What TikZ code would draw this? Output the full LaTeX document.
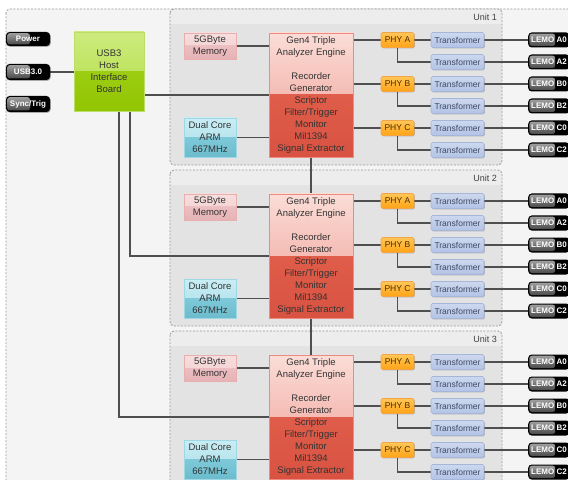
\documentclass[tikz,border=0pt]{standalone}
\usepackage{fontspec}
\setmainfont{Liberation Sans}
\usetikzlibrary{calc,shadows}
\pgfdeclarelayer{bg}
\pgfdeclarelayer{conn}
\pgfsetlayers{bg,conn,main}
\definecolor{outerbg}{HTML}{F4F4F4}
\definecolor{unitbody}{HTML}{E3E3E3}
\definecolor{unithead}{HTML}{EDEDED}
\definecolor{dashcol}{HTML}{9A9A9A}
\definecolor{txt}{HTML}{333333}
\definecolor{memA}{HTML}{F7DEDE}
\definecolor{memB}{HTML}{F1CDCE}
\definecolor{memC}{HTML}{ECBEC1}
\definecolor{memD}{HTML}{E6B2B6}
\definecolor{memBd}{HTML}{E8AFAF}
\definecolor{engA}{HTML}{FBDDD7}
\definecolor{engB}{HTML}{EE9A90}
\definecolor{engC}{HTML}{DF5D4A}
\definecolor{engD}{HTML}{D95241}
\definecolor{engBd}{HTML}{EC8C80}
\definecolor{armA}{HTML}{C9EDF4}
\definecolor{armB}{HTML}{A8DDE8}
\definecolor{armC}{HTML}{7DC9D9}
\definecolor{armD}{HTML}{6CBCCD}
\definecolor{armBd}{HTML}{9FD8E4}
\definecolor{brdA}{HTML}{CDEB7E}
\definecolor{brdB}{HTML}{B0DC42}
\definecolor{brdC}{HTML}{9CCD12}
\definecolor{brdD}{HTML}{92C502}
\definecolor{brdBd}{HTML}{BCDD66}
\definecolor{phyA}{HTML}{FFC657}
\definecolor{phyB}{HTML}{FFA316}
\definecolor{phyBd}{HTML}{F2A448}
\definecolor{phyTxt}{HTML}{4A2E00}
\definecolor{trA}{HTML}{CDD8EF}
\definecolor{trB}{HTML}{B3C3E6}
\definecolor{trBd}{HTML}{A6B6D9}
\definecolor{trTxt}{HTML}{3F4A63}
\definecolor{conncol}{HTML}{4F4F4F}
\tikzset{
  conn/.style={draw=conncol, line width=1.3bp},
  outerdash/.style={draw=dashcol, line width=0.8bp, dash pattern=on 2bp off 1.5bp, rounded corners=4bp},
  twotone/.style n args={4}{path picture={
    \shade[top color=#1,bottom color=#2] (path picture bounding box.north west) rectangle (path picture bounding box.east);
    \shade[top color=#3,bottom color=#4] (path picture bounding box.west) rectangle (path picture bounding box.south east);
  }},
  shad/.style={drop shadow={shadow xshift=0.8bp, shadow yshift=-0.8bp, opacity=0.22, fill=black}},
  blk/.style={rectangle, inner sep=0pt, align=center, text=txt, line width=0.6bp, shad,
    font=\fontsize{9.5bp}{11.9bp}\selectfont},
  memstyle/.style={blk, minimum width=52bp, minimum height=26bp, draw=memBd, twotone={memA}{memB}{memC}{memD}},
  armstyle/.style={blk, minimum width=52bp, minimum height=39bp, draw=armBd, twotone={armA}{armB}{armC}{armD}},
  engstyle/.style={blk, minimum width=84bp, minimum height=124bp, draw=engBd, twotone={engA}{engB}{engC}{engD}},
  brdstyle/.style={blk, minimum width=70bp, minimum height=79bp, draw=brdBd, twotone={brdA}{brdB}{brdC}{brdD}},
  phystyle/.style={rectangle, rounded corners=1.5bp, minimum width=33bp, minimum height=15bp, inner sep=0pt,
    draw=phyBd, line width=0.6bp, top color=phyA, bottom color=phyB, text=phyTxt, shad,
    font=\fontsize{8.5bp}{10bp}\selectfont},
  trstyle/.style={rectangle, rounded corners=1.5bp, minimum width=53bp, minimum height=15bp, inner sep=0pt,
    draw=trBd, line width=0.6bp, top color=trA, bottom color=trB, text=trTxt, shad,
    font=\fontsize{8.5bp}{10bp}\selectfont},
  hilite/.style={path picture={
    \shade[top color=black!35, bottom color=black!75, rounded corners=2.5bp]
      ([xshift=1.2bp,yshift=-1.2bp]path picture bounding box.north west) rectangle
      ([xshift=#1,yshift=1.5bp]path picture bounding box.south west);
  }},
  lemostyle/.style={rectangle, rounded corners=3.5bp, fill=black, anchor=west, minimum height=15bp,
    inner xsep=3bp, inner ysep=0pt, text=white, hilite=27bp,
    font=\bfseries\fontsize{8bp}{9bp}\selectfont},
  btnstyle/.style={rectangle, rounded corners=3.5bp, fill=black, minimum width=44bp, inner sep=0pt,
    text=white, hilite=24bp, drop shadow={shadow xshift=0.8bp, shadow yshift=-0.8bp, opacity=0.3, fill=black},
    font=\bfseries\fontsize{8bp}{9bp}\selectfont},
  unitlabel/.style={text=black!75, inner sep=0pt, font=\fontsize{9bp}{10bp}\selectfont}
}
\begin{document}
\begin{tikzpicture}[x=1bp,y=-1bp]
\useasboundingbox (0,0) rectangle (568,480);
\clip (0,0) rectangle (568,480);
\begin{pgfonlayer}{bg}
  \fill[white] (0,0) rectangle (568,480);
  \draw[outerdash, fill=outerbg] (6,9) rectangle (600,520);
  \foreach \dy in {0,161,322}{
    \begin{scope}
      \clip[rounded corners=4bp] (170,9+\dy) rectangle (502,165+\dy);
      \fill[unitbody] (170,9+\dy) rectangle (502,165+\dy);
      \fill[unithead] (170,9+\dy) rectangle (502,24+\dy);
    \end{scope}
    \draw[outerdash] (170,9+\dy) rectangle (502,165+\dy);
  }
\end{pgfonlayer}

% left side
\node[btnstyle, minimum height=14bp] (pwr) at (28,39) {Power};
\node[btnstyle, minimum height=16bp] (usb) at (28,72) {USB3.0};
\node[btnstyle, minimum height=16bp] (sync) at (28,104) {Sync/Trig};
\node[brdstyle] (brd) at (109,71.5) {USB3\\Host\\Interface\\Board};

\foreach \u/\dy in {1/0,2/161,3/322}{
  \node[unitlabel, anchor=east] (ul\u) at (497,17+\dy) {Unit \u};
  \node[memstyle] (m\u) at (210,46+\dy) {5GByte\\Memory};
  \node[armstyle] (c\u) at (210,137.5+\dy) {Dual Core\\ARM\\667MHz};
  \node[engstyle] (e\u) at (311,95+\dy) {Gen4 Triple\\Analyzer Engine\\[11.9bp]Recorder\\Generator\\Scriptor\\Filter/Trigger\\Monitor\\Mil1394\\Signal Extractor};
  \begin{pgfonlayer}{conn}
    \draw[conn] (m\u.east) -- (e\u.west |- m\u.east);
    \draw[conn] (c\u.east) -- (e\u.west |- c\u.east);
  \end{pgfonlayer}
  \foreach \p/\r in {A/0,B/44,C/88}{
    \node[phystyle] (p\u\p) at (397.5,40+\r+\dy) {PHY \p};
    \node[trstyle] (t\u\p0) at (457.5,40+\r+\dy) {Transformer};
    \node[trstyle] (t\u\p2) at (457.5,62+\r+\dy) {Transformer};
    \node[lemostyle] (l\u\p0) at (528,40+\r+\dy) {LEMO \p0};
    \node[lemostyle] (l\u\p2) at (528,62+\r+\dy) {LEMO \p2};
    \begin{pgfonlayer}{conn}
      \draw[conn] (e\u.east |- p\u\p.west) -- (p\u\p.west);
      \draw[conn] (p\u\p.east) -- (t\u\p0.west);
      \draw[conn] (p\u\p.south) |- (t\u\p2.west);
      \draw[conn] (t\u\p0.east) -- (l\u\p0.west);
      \draw[conn] (t\u\p2.east) -- (l\u\p2.west);
    \end{pgfonlayer}
  }
}

\begin{pgfonlayer}{conn}
  \draw[conn] (usb.east) -- (brd.west |- usb.east);
  \draw[conn] (brd.east |- e1.west) -- (e1.west);
  \draw[conn] ([xshift=21bp]brd.south) |- (e2.west);
  \draw[conn] ([xshift=10bp]brd.south) |- (e3.west);
  \draw[conn] (e1.south) -- (e2.north);
  \draw[conn] (e2.south) -- (e3.north);
\end{pgfonlayer}
\end{tikzpicture}
\end{document}
